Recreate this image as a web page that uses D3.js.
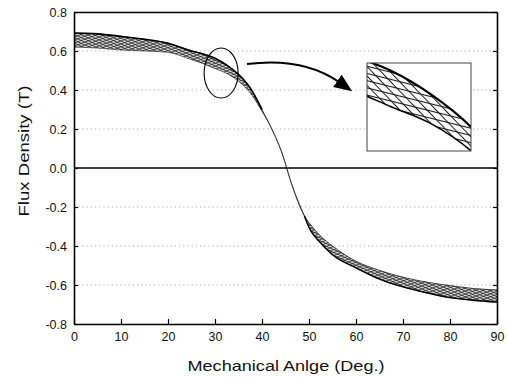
<!DOCTYPE html>
<html>
<head>
<meta charset="utf-8">
<script src="https://cdn.jsdelivr.net/npm/d3@7"></script>
<style>
  body { margin: 0; background: #fff; }
  text { font-family: "Liberation Sans", Arial, sans-serif; fill: #111; }
</style>
</head>
<body>
<figure id="flux" style="margin:0"></figure>
<script>
// mechanical angle (deg) and the edges of the flux density band (T)
const angles = [0, 5, 10, 15, 20, 25, 27.5, 30, 32.5, 35, 37.5, 40, 42, 44.5, 46, 49, 50, 52.5, 55, 60, 65, 70, 75, 80, 85, 90];
const bandTop = [0.692, 0.688, 0.675, 0.66, 0.64, 0.6, 0.585, 0.563, 0.528, 0.48, 0.41, 0.30, 0.204, 0.06, -0.06, -0.245, -0.28, -0.35, -0.40, -0.478, -0.525, -0.56, -0.585, -0.603, -0.618, -0.625];
const bandBottom = [0.62, 0.615, 0.605, 0.6, 0.593, 0.555, 0.535, 0.51, 0.485, 0.445, 0.385, 0.29, 0.204, 0.06, -0.06, -0.245, -0.305, -0.385, -0.445, -0.512, -0.57, -0.61, -0.64, -0.665, -0.678, -0.688];

const xTicks = [0, 10, 20, 30, 40, 50, 60, 70, 80, 90];
const yTicks = [-0.8, -0.6, -0.4, -0.2, 0.0, 0.2, 0.4, 0.6, 0.8];
const gridTicks = [-0.6, -0.4, -0.2, 0.2, 0.4, 0.6];

const band = angles.map((a, i) => ({ a: a, top: bandTop[i], bot: bandBottom[i] }));
const upperPart = band.filter(d => d.a <= 40);
const lowerPart = band.filter(d => d.a >= 49);

const width = 507, height = 380;
const svg = d3.select("figure#flux")
  .append("svg")
  .attr("width", width)
  .attr("height", height);

const x = d3.scaleLinear().domain([0, 90]).range([74, 497]);
const y = d3.scaleLinear().domain([-0.8, 0.8]).range([324, 12]);

// hatch patterns for the crossing curves
const defs = svg.append("defs");
function hatch(id, size, angle, sw) {
  defs.append("pattern")
    .attr("id", id)
    .attr("patternUnits", "userSpaceOnUse")
    .attr("width", size).attr("height", size)
    .attr("patternTransform", "rotate(" + angle + ")")
    .append("line")
    .attr("x1", size / 2).attr("y1", 0).attr("x2", size / 2).attr("y2", size)
    .attr("stroke", "#1a1a1a").attr("stroke-width", sw);
}
hatch("hA", 2.6, -66, 0.7);
hatch("hB", 2.8, 70, 0.7);
hatch("iA", 7, -76, 1.1);
hatch("iB", 6.5, -44, 1.0);

defs.append("marker")
  .attr("id", "head")
  .attr("markerUnits", "userSpaceOnUse")
  .attr("viewBox", "0 0 18 15")
  .attr("refX", 2).attr("refY", 7.5)
  .attr("markerWidth", 18).attr("markerHeight", 15)
  .attr("orient", "auto")
  .append("path")
  .attr("d", "M0,0 L18,7.5 L0,15 Z")
  .attr("fill", "#000");

// dotted grid
svg.append("g")
  .selectAll("line")
  .data(gridTicks)
  .enter()
  .append("line")
  .attr("x1", x(0)).attr("x2", x(90))
  .attr("y1", d => y(d)).attr("y2", d => y(d))
  .attr("stroke", "#999")
  .attr("stroke-width", 0.8)
  .attr("stroke-dasharray", "1.2,3");

// zero line
svg.append("line")
  .attr("x1", x(0)).attr("x2", x(90))
  .attr("y1", y(0)).attr("y2", y(0))
  .attr("stroke", "#000").attr("stroke-width", 1.5);

// band of curves
const area = d3.area()
  .x(d => x(d.a))
  .y0(d => y(d.bot))
  .y1(d => y(d.top))
  .curve(d3.curveMonotoneX);
const topLine = d3.line().x(d => x(d.a)).y(d => y(d.top)).curve(d3.curveMonotoneX);
const botLine = d3.line().x(d => x(d.a)).y(d => y(d.bot)).curve(d3.curveMonotoneX);

svg.append("path").datum(band).attr("d", area).attr("fill", "#d6d6d6");
svg.append("path").datum(band).attr("d", area).attr("fill", "url(#hA)");
svg.append("path").datum(band).attr("d", area).attr("fill", "url(#hB)");
svg.append("path").datum(band).attr("d", topLine)
  .attr("fill", "none").attr("stroke", "#222").attr("stroke-width", 0.8);
svg.append("path").datum(band).attr("d", botLine)
  .attr("fill", "none").attr("stroke", "#222").attr("stroke-width", 0.6);
// darker outer edges where the curves bunch together
svg.append("path").datum(upperPart).attr("d", topLine)
  .attr("fill", "none").attr("stroke", "#000").attr("stroke-width", 1.6);
svg.append("path").datum(lowerPart).attr("d", botLine)
  .attr("fill", "none").attr("stroke", "#000").attr("stroke-width", 1.4);

// axes
svg.append("g")
  .attr("transform", "translate(0," + y(-0.8) + ")")
  .call(d3.axisBottom(x).tickValues(xTicks).tickSizeInner(-5).tickSizeOuter(0).tickPadding(8).tickFormat(d3.format("d")));
svg.append("g")
  .attr("transform", "translate(" + x(0) + ",0)")
  .call(d3.axisLeft(y).tickValues(yTicks).tickSizeInner(-4).tickSizeOuter(0).tickPadding(7).tickFormat(d => d.toFixed(1)));
svg.append("g")
  .attr("transform", "translate(" + x(90) + ",0)")
  .call(d3.axisRight(y).tickValues(yTicks).tickSizeInner(-4).tickSizeOuter(0).tickFormat(""));
svg.append("g")
  .attr("transform", "translate(0," + y(0.8) + ")")
  .call(d3.axisTop(x).tickValues(xTicks).tickSizeInner(0).tickSizeOuter(0).tickFormat(""));

svg.selectAll(".domain").attr("stroke", "#000").attr("stroke-width", 1.6);
svg.selectAll(".tick line").attr("stroke", "#000").attr("stroke-width", 1.2);
svg.selectAll(".tick text").style("font-size", "12.5px").style("font-family", "Liberation Sans, Arial, sans-serif").attr("fill", "#111");

// axis titles
svg.append("text")
  .attr("x", 286).attr("y", 371)
  .attr("text-anchor", "middle")
  .attr("textLength", 197).attr("lengthAdjust", "spacingAndGlyphs")
  .style("font-size", "15px")
  .text("Mechanical Anlge (Deg.)");
svg.append("text")
  .attr("transform", "translate(29,151) rotate(-90)")
  .attr("text-anchor", "middle")
  .attr("textLength", 131).attr("lengthAdjust", "spacingAndGlyphs")
  .style("font-size", "15.5px")
  .text("Flux Density (T)");

// ellipse marking the zoomed region and the arrow
svg.append("ellipse")
  .attr("cx", x(31.3)).attr("cy", y(0.487))
  .attr("rx", 17).attr("ry", 25)
  .attr("fill", "none").attr("stroke", "#000").attr("stroke-width", 1.1);
svg.append("path")
  .attr("d", "M247,64 Q303,57 339,82")
  .attr("fill", "none").attr("stroke", "#000").attr("stroke-width", 2)
  .attr("marker-end", "url(#head)");

// inset: close-up of the band
const ix = d3.scaleLinear().domain([28.5, 35]).range([367, 471]);
const iy = d3.scaleLinear().domain([0.4446, 0.5744]).range([151, 63]);
defs.append("clipPath").attr("id", "insetClip")
  .append("rect").attr("x", 367).attr("y", 63).attr("width", 104).attr("height", 88);

const iArea = d3.area().x(d => ix(d.a)).y0(d => iy(d.bot)).y1(d => iy(d.top)).curve(d3.curveMonotoneX);
const iTop = d3.line().x(d => ix(d.a)).y(d => iy(d.top)).curve(d3.curveMonotoneX);
const iBot = d3.line().x(d => ix(d.a)).y(d => iy(d.bot)).curve(d3.curveMonotoneX);

svg.append("rect")
  .attr("x", 367).attr("y", 63).attr("width", 104).attr("height", 88)
  .attr("fill", "#fff");
const inset = svg.append("g").attr("clip-path", "url(#insetClip)");
inset.append("path").datum(band).attr("d", iArea).attr("fill", "url(#iA)");
inset.append("path").datum(band).attr("d", iArea).attr("fill", "url(#iB)");
inset.append("path").datum(band).attr("d", iTop)
  .attr("fill", "none").attr("stroke", "#000").attr("stroke-width", 2.2);
inset.append("path").datum(band).attr("d", iBot)
  .attr("fill", "none").attr("stroke", "#000").attr("stroke-width", 1.6);
svg.append("rect")
  .attr("x", 367).attr("y", 63).attr("width", 104).attr("height", 88)
  .attr("fill", "none").attr("stroke", "#444").attr("stroke-width", 1);
</script>
</body>
</html>
